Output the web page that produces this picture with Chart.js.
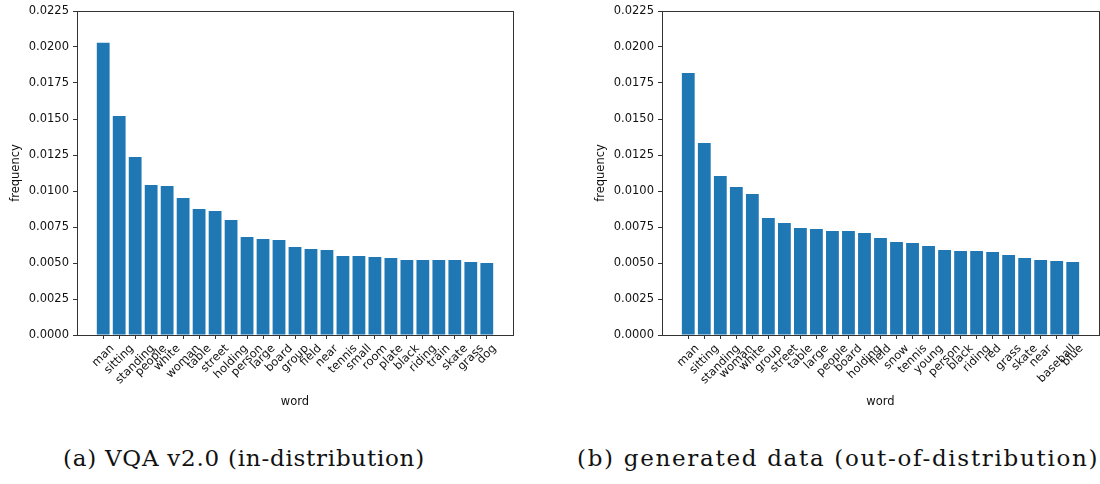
<!DOCTYPE html>
<html>
<head>
<meta charset="utf-8">
<script src="https://cdn.jsdelivr.net/npm/chart.js@4.4.1/dist/chart.umd.min.js"></script>
<style>
  html, body { margin: 0; padding: 0; background: #fff; }
  #page { position: relative; width: 1100px; height: 484px; overflow: hidden; }
  canvas { position: absolute; top: 0; }
  #left-chart { left: 0; }
  #right-chart { left: 585px; }
  .caption {
    position: absolute;
    top: 447px;
    font-family: 'DejaVu Serif', serif;
    font-size: 23px;
    line-height: 23px;
    white-space: nowrap;
    color: #111;
  }
  #cap-a { left: 63px; letter-spacing: 0.75px; }
  #cap-b { left: 577px; letter-spacing: 1.7px; }
</style>
</head>
<body>
<div id="page">
  <canvas id="left-chart" width="530" height="420"></canvas>
  <canvas id="right-chart" width="515" height="420"></canvas>
  <div class="caption" id="cap-a">(a) VQA v2.0 (in-distribution)</div>
  <div class="caption" id="cap-b">(b) generated data (out-of-distribution)</div>
</div>
<script>
// --- Data ---
const leftWords = ['man', 'sitting', 'standing', 'people', 'white', 'woman', 'table', 'street',
  'holding', 'person', 'large', 'board', 'group', 'field', 'near', 'tennis', 'small', 'room',
  'plate', 'black', 'riding', 'train', 'skate', 'grass', 'dog'];
const leftFreq = [0.0203, 0.0152, 0.01236, 0.01042, 0.01035, 0.00951, 0.00875, 0.00861,
  0.00799, 0.00681, 0.00667, 0.0066, 0.00611, 0.00597, 0.0059, 0.00549, 0.00549, 0.00542,
  0.00535, 0.00521, 0.00521, 0.00521, 0.00521, 0.00507, 0.005];

const rightWords = ['man', 'sitting', 'standing', 'woman', 'white', 'group', 'street', 'table',
  'large', 'people', 'board', 'holding', 'field', 'snow', 'tennis', 'young', 'person', 'black',
  'riding', 'red', 'grass', 'skate', 'near', 'baseball', 'blue'];
const rightFreq = [0.01819, 0.01333, 0.01104, 0.01028, 0.00979, 0.00813, 0.00778, 0.00743,
  0.00736, 0.00722, 0.00722, 0.00708, 0.00674, 0.00646, 0.00639, 0.00618, 0.0059, 0.00583,
  0.00583, 0.00576, 0.00556, 0.00535, 0.00521, 0.00514, 0.00507];

const yTicks = [0, 0.0025, 0.005, 0.0075, 0.01, 0.0125, 0.015, 0.0175, 0.02, 0.0225];

const colors = {
  bar: '#1f77b4',
  axis: '#333',
  text: '#111'
};
const tickFont = { family: 'DejaVu Sans', size: 11.5 };

// --- Plugins ---
// box around the plot, like matplotlib's spines
const framePlugin = {
  id: 'frame',
  afterDraw(chart) {
    const { ctx, chartArea: a } = chart;
    ctx.save();
    ctx.strokeStyle = colors.axis;
    ctx.lineWidth = 1;
    ctx.strokeRect(Math.round(a.left) + 0.5, Math.round(a.top) + 0.5,
      Math.round(a.right - a.left), Math.round(a.bottom - a.top));
    ctx.restore();
  }
};

// rotated word labels, bounding box centred under the tick (matplotlib style)
function wordLabelPlugin(words) {
  return {
    id: 'wordLabels',
    afterDraw(chart) {
      const { ctx, chartArea } = chart;
      const xScale = chart.scales.x;
      const c = Math.SQRT1_2;
      const h = tickFont.size * 1.164;
      const y0 = chartArea.bottom + 7;
      ctx.save();
      ctx.font = `${tickFont.size}px ${tickFont.family}`;
      ctx.fillStyle = colors.text;
      ctx.textAlign = 'right';
      ctx.textBaseline = 'middle';
      words.forEach((word, i) => {
        const x = xScale.getPixelForValue(i);
        const w = ctx.measureText(word).width;
        ctx.save();
        ctx.translate(x + c * w / 2, y0 + c * h / 2);
        ctx.rotate(-Math.PI / 4);
        ctx.fillText(word, 0, 0);
        ctx.restore();
      });
      ctx.restore();
    }
  };
}

// --- Chart builder ---
function buildChart(canvasId, words, freqs, rightPad) {
  const ctx = document.getElementById(canvasId).getContext('2d');
  const span = words.length - 1 + 0.8;
  const margin = 0.05 * span;

  return new Chart(ctx, {
    type: 'bar',
    data: {
      datasets: [{
        data: words.map((w, i) => ({ x: i, y: freqs[i] })),
        backgroundColor: colors.bar,
        borderWidth: 0,
        barPercentage: 0.8,
        categoryPercentage: 1.0
      }]
    },
    options: {
      responsive: false,
      animation: false,
      events: [],
      layout: { padding: { top: 11, right: rightPad, bottom: 0, left: 0 } },
      plugins: {
        legend: { display: false },
        tooltip: { enabled: false }
      },
      scales: {
        x: {
          type: 'linear',
          offset: false,
          min: -0.4 - margin,
          max: words.length - 1 + 0.4 + margin,
          afterBuildTicks: scale => { scale.ticks = words.map((w, i) => ({ value: i })); },
          afterFit: scale => { scale.height = 85; },
          ticks: { display: false },
          grid: { offset: false, drawOnChartArea: false, drawTicks: true, tickLength: 4, color: colors.axis },
          border: { display: true, color: colors.axis },
          title: {
            display: true,
            text: 'word',
            color: colors.text,
            font: tickFont,
            padding: { top: 0, bottom: 11 }
          }
        },
        y: {
          min: 0,
          max: 0.0225,
          afterBuildTicks: scale => { scale.ticks = yTicks.map(v => ({ value: v })); },
          afterFit: scale => { scale.width = 77; },
          ticks: {
            color: colors.text,
            font: tickFont,
            padding: 4,
            callback: v => Number(v).toFixed(4)
          },
          grid: { drawOnChartArea: false, drawTicks: true, tickLength: 4, color: colors.axis },
          border: { display: true, color: colors.axis },
          title: {
            display: true,
            text: 'frequency',
            color: colors.text,
            font: tickFont,
            padding: { top: 9, bottom: 0 }
          }
        }
      }
    },
    plugins: [framePlugin, wordLabelPlugin(words)]
  });
}

buildChart('left-chart', leftWords, leftFreq, 17);
buildChart('right-chart', rightWords, rightFreq, 1);
</script>
</body>
</html>
